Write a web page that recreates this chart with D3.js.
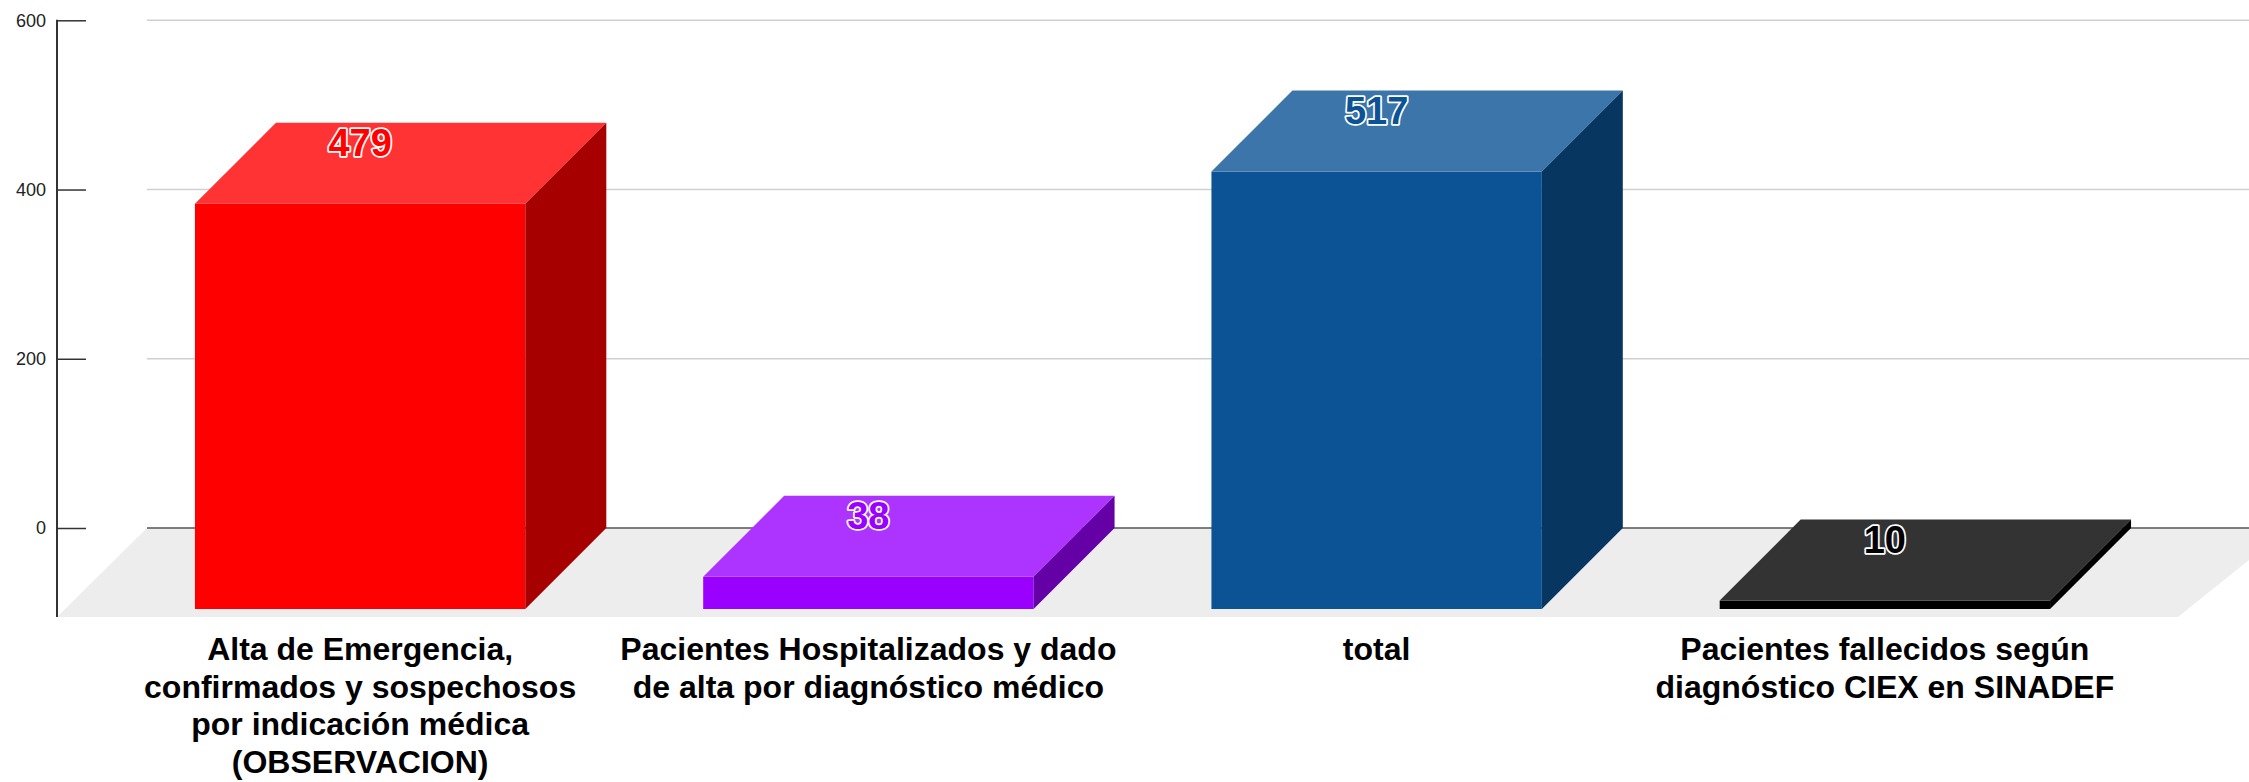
<!DOCTYPE html>
<html>
<head>
<meta charset="utf-8">
<script src="https://cdn.jsdelivr.net/npm/d3@7"></script>
<style>
  body { margin: 0; background: #fff; }
  svg { display: block; font-family: 'Liberation Sans', Arial, sans-serif; }
</style>
</head>
<body>
<div id="chart"></div>
<script>
// data
const categories = [
  'Alta de Emergencia, confirmados y sospechosos por indicación médica (OBSERVACION)',
  'Pacientes Hospitalizados y dado de alta por diagnóstico médico',
  'total',
  'Pacientes fallecidos según diagnóstico CIEX en SINADEF'
]
const labelLines = [
  ['Alta de Emergencia,', 'confirmados y sospechosos', 'por indicación médica', '(OBSERVACION)'],
  ['Pacientes Hospitalizados y dado', 'de alta por diagnóstico médico'],
  ['total'],
  ['Pacientes fallecidos según', 'diagnóstico CIEX en SINADEF']
]
const values = [479, 38, 517, 10]
const barColors = ['#ff0000', '#9900ff', '#0b5394', '#000000']
const yTicks = [0, 200, 400, 600]

// layout
const width = 2249
const height = 782
const axisX = 57
const depth = 81 // bar depth offset (x and y)
const floorDepth = 89

const svg = d3.select('#chart').append('svg')
  .attr('width', width)
  .attr('height', height)

const y = d3.scaleLinear().domain([0, 600]).range([528, 20.3])

// front face band scale
const x = d3.scaleBand()
  .domain(categories)
  .range([106, 2139])
  .paddingInner(0.35)
  .paddingOuter(0.175)

// floor
const floorFront = y(0) + floorDepth
svg.append('path')
  .attr('d', `M${axisX},${floorFront}L${axisX + floorDepth + 1},${y(0)}L${width + 40},${y(0)}L2178,${floorFront}Z`)
  .attr('fill', '#ededed')

// gridlines (back wall)
svg.append('g').selectAll('line')
  .data(yTicks)
  .join('line')
  .attr('x1', axisX + floorDepth + 1)
  .attr('x2', width)
  .attr('y1', d => y(d))
  .attr('y2', d => y(d))
  .attr('stroke', d => d === 0 ? '#555' : '#d0d0d0')
  .attr('stroke-width', 1.5)

// y axis
const yAxis = d3.axisLeft(y)
  .tickValues(yTicks)
  .tickSizeInner(-29)
  .tickSizeOuter(0)
  .tickPadding(11)
const axisG = svg.append('g')
  .attr('transform', `translate(${axisX},0)`)
  .call(yAxis)
axisG.select('.domain').remove()
axisG.selectAll('.tick line').attr('stroke', '#333').attr('stroke-width', 1.5)
axisG.selectAll('.tick text')
  .attr('fill', '#222')
  .style('font-size', '18px')
  .style('font-family', "'Liberation Sans', Arial, sans-serif")
axisG.append('line')
  .attr('x1', 0).attr('x2', 0)
  .attr('y1', y(600) - 0.5)
  .attr('y2', floorFront)
  .attr('stroke', '#333')
  .attr('stroke-width', 2)

// bars
const bars = svg.append('g').selectAll('g')
  .data(values.map((v, i) => ({ v, i, cat: categories[i], color: barColors[i] })))
  .join('g')

// front face: value drawn against back scale, then shifted forward by depth
bars.append('rect')
  .attr('x', d => x(d.cat))
  .attr('y', d => y(d.v) + depth)
  .attr('width', x.bandwidth())
  .attr('height', d => y(0) - y(d.v))
  .attr('fill', d => d.color)

bars.append('path')
  .attr('d', d => {
    const x0 = x(d.cat)
    const x1 = x0 + x.bandwidth()
    const yf = y(d.v) + depth
    return `M${x0},${yf}L${x0 + depth},${yf - depth}L${x1 + depth},${yf - depth}L${x1},${yf}Z`
  })
  .attr('fill', d => d3.interpolateRgb(d.color, '#ffffff')(0.2))

bars.append('path')
  .attr('d', d => {
    const x1 = x(d.cat) + x.bandwidth()
    const yf = y(d.v) + depth
    const yb = y(0) + depth
    return `M${x1},${yf}L${x1 + depth},${yf - depth}L${x1 + depth},${yb - depth}L${x1},${yb}Z`
  })
  .attr('fill', d => d3.rgb(d.color).darker(1.2))

// value labels on the top faces
bars.append('text')
  .attr('x', d => x(d.cat) + x.bandwidth() / 2)
  .attr('y', d => y(d.v) + 33)
  .attr('text-anchor', 'middle')
  .attr('fill', d => d.color)
  .attr('stroke', '#fff')
  .attr('stroke-width', 3.5)
  .attr('stroke-linejoin', 'round')
  .style('paint-order', 'stroke')
  .style('font-size', '38px')
  .style('font-weight', 'bold')
  .text(d => d.v)

// category labels
const catLabels = svg.append('g').selectAll('text')
  .data(categories)
  .join('text')
  .attr('x', d => x(d) + x.bandwidth() / 2)
  .attr('y', 660)
  .attr('text-anchor', 'middle')
  .attr('fill', '#000')
  .style('font-size', '32px')
  .style('font-weight', 'bold')

catLabels.selectAll('tspan')
  .data((d, i) => labelLines[i])
  .join('tspan')
  .attr('x', function () { return d3.select(this.parentNode).attr('x') })
  .attr('dy', (d, i) => i === 0 ? 0 : 37.5)
  .text(d => d)
</script>
</body>
</html>
